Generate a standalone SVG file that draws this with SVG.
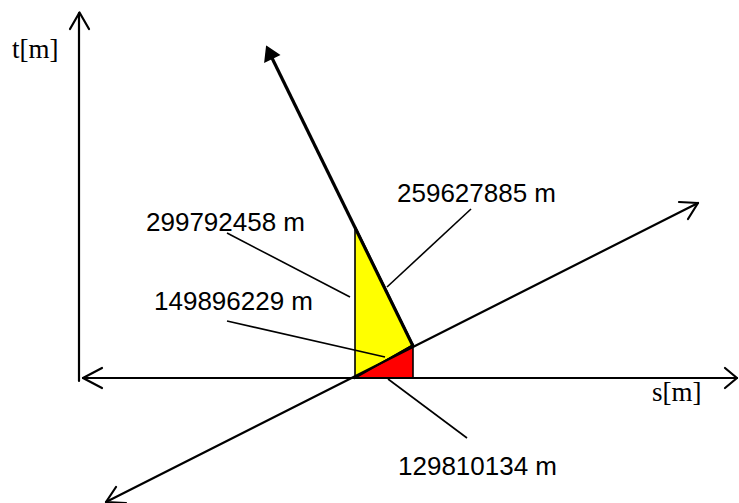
<svg xmlns="http://www.w3.org/2000/svg" width="739" height="503" viewBox="0 0 739 503">
<style>
.ax{stroke:#000;stroke-width:2.2;fill:none;stroke-linecap:round;stroke-linejoin:round}
.co{stroke:#000;stroke-width:1.6;fill:none}
.tri{stroke:#000;stroke-width:1.6;stroke-linejoin:miter}
.lbl{font-family:"Liberation Sans",Arial,sans-serif;font-size:26px;fill:#000}
.ser{font-family:"Liberation Serif","Times New Roman",serif;font-size:27px;fill:#000}
</style>
<rect width="739" height="503" fill="#fff"/>
<g id="triangles">
<polygon class="tri" points="355,226 355,378 413,345" fill="#ffff00"/>
<polygon class="tri" points="355,378 413,345 413,378" fill="#ff0000"/>
</g>
<g id="connectors">
<line class="ax" x1="79" y1="381" x2="79" y2="13"/>
<polyline class="ax" points="70,29 79.5,12.5 89,29"/>
<line class="ax" x1="83" y1="378" x2="737" y2="378"/>
<polyline class="ax" points="102,368 83,378 102,388"/>
<polyline class="ax" points="725,368 737,378 725,388"/>
<line class="ax" x1="106" y1="502" x2="698" y2="203"/>
<polyline class="ax" points="679,202 698,203 688,219"/>
<polyline class="ax" points="126,503 106,502 116,487"/>
<line stroke="#000" stroke-width="3.2" x1="413" y1="346" x2="272" y2="58"/>
<polygon points="266.7,46.7 279,55 265,61.7" fill="#000" stroke="#000" stroke-width="1.5" stroke-linejoin="miter"/>
<line class="co" x1="227" y1="233" x2="350" y2="297"/>
<line class="co" x1="471" y1="209" x2="387" y2="287"/>
<line class="co" x1="227" y1="321" x2="385" y2="357"/>
<line class="co" x1="388" y1="379" x2="467" y2="438"/>
</g>
<g id="labels">
<text class="ser" x="12" y="58">t[m]</text>
<text class="ser" x="652" y="401">s[m]</text>
<text class="lbl" x="146" y="231">299792458 m</text>
<text class="lbl" x="397" y="202">259627885 m</text>
<text class="lbl" x="154" y="310">149896229 m</text>
<text class="lbl" x="398" y="475">129810134 m</text>
</g>
</svg>
